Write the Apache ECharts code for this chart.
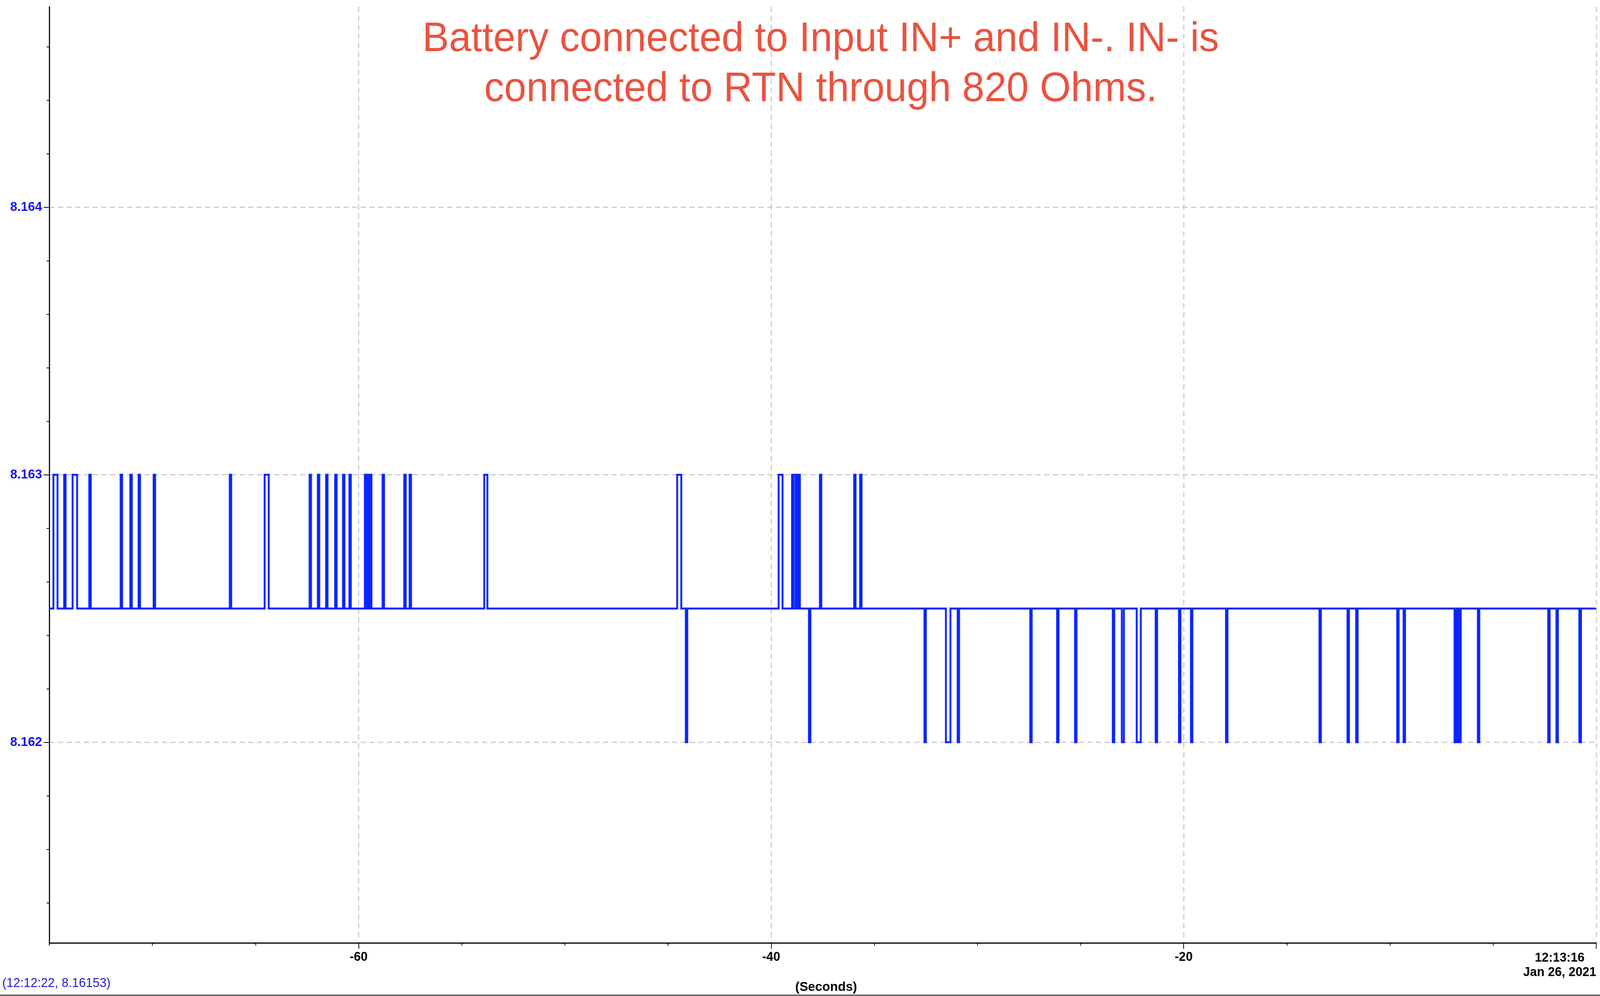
<!DOCTYPE html>
<html>
<head>
<meta charset="utf-8">
<script src="https://cdn.jsdelivr.net/npm/echarts@6/dist/echarts.min.js"></script>
<style>
html,body{margin:0;padding:0;background:#ffffff;overflow:hidden;}
#chart{width:4254px;height:2550px;transform-origin:0 0;}
</style>
</head>
<body>
<div id="chart"></div>
<script>
// ---- data ----
const baseLevel = 8.1625;
const highLevel = 8.163;
const lowLevel = 8.162;
const timeStart = -75;
const timeEnd = 0;

const upPulseStart = [-74.80, -74.28, -73.87, -73.06, -71.54, -71.07, -70.67, -69.94, -66.25, -64.56,
  -62.38, -61.98, -61.58, -61.14, -60.76, -60.45, -59.70, -59.57, -59.45, -58.84, -57.79, -57.53,
  -53.91, -44.56, -39.64, -38.99, -38.82, -38.68, -37.64, -35.98, -35.69];
const upPulseEnd = [-74.60, -74.21, -73.65, -72.99, -71.47, -71.00, -70.60, -69.87, -66.18, -64.36,
  -62.31, -61.91, -61.51, -61.07, -60.69, -60.38, -59.63, -59.50, -59.38, -58.77, -57.72, -57.46,
  -53.76, -44.36, -39.45, -38.92, -38.75, -38.61, -37.57, -35.91, -35.62];

const downPulseStart = [-44.14, -38.17, -32.57, -31.53, -30.96, -27.44, -26.14, -25.27, -23.44, -23.00,
  -22.28, -21.36, -20.23, -19.65, -17.95, -13.42, -12.06, -11.64, -9.65, -9.34, -6.87, -6.75, -6.64,
  -5.74, -2.33, -1.93, -0.82];
const downPulseEnd = [-44.07, -38.10, -32.50, -31.31, -30.89, -27.37, -26.07, -25.20, -23.37, -22.90,
  -22.08, -21.29, -20.16, -19.58, -17.88, -13.35, -11.99, -11.57, -9.58, -9.27, -6.80, -6.68, -6.57,
  -5.67, -2.26, -1.86, -0.74];

const xMajorTicks = [-60, -40, -20, 0];
const xMinorTicks = [-75, -70, -65, -55, -50, -45, -35, -30, -25, -15, -10, -5];
const yMajorTicks = [8.162, 8.163, 8.164];
const yMinorTicks = [8.1614, 8.1616, 8.1618, 8.1622, 8.1624, 8.1626, 8.1628,
  8.1632, 8.1634, 8.1636, 8.1638, 8.1642, 8.1644, 8.1646];
const yMin = 8.16125;
const yMax = 8.16475;
const endTimeLabel = ['12:13:16', 'Jan 26, 2021'];
const xAxisName = '(Seconds)';
const noteLines = ['Battery connected to Input IN+ and IN-. IN- is', 'connected to RTN through 820 Ohms.'];
const cursorReadout = '(12:12:22, 8.16153)';

// ---- build the step trace from the pulse lists ----
const pulses = [];
upPulseStart.forEach((s, i) => pulses.push({ s: s, e: upPulseEnd[i], v: highLevel }));
downPulseStart.forEach((s, i) => pulses.push({ s: s, e: downPulseEnd[i], v: lowLevel }));
pulses.sort((a, b) => a.s - b.s);
const trace = [[timeStart, baseLevel]];
pulses.forEach(p => {
  trace.push([p.s, baseLevel], [p.s, p.v], [p.e, p.v], [p.e, baseLevel]);
});
trace.push([timeEnd, baseLevel]);

// fit the 4254x2550 design into the actual viewport
const W = 4254, H = 2550;
const dom = document.getElementById('chart');
const sx = (window.innerWidth || W) / W;
const sy = (window.innerHeight || H) / H;
dom.style.transform = 'scale(' + sx + ',' + sy + ')';

const FONT = '"Liberation Sans", Arial, sans-serif';
const gridDash = { color: '#c4c4c4', width: 2.5, type: [14, 9] };

const chart = echarts.init(dom, null, { renderer: 'canvas', width: W, height: H });
chart.setOption({
  animation: false,
  backgroundColor: '#ffffff',
  title: {
    text: noteLines.join('\n'), left: 2182, top: 38, padding: 0,
    textAlign: 'center', textVerticalAlign: 'top',
    textStyle: { fontFamily: FONT, fontSize: 106, lineHeight: 128, fontWeight: 'normal', color: '#E9533F' }
  },
  grid: { left: 131, right: 10, top: 17, bottom: 135, containLabel: false },
  xAxis: [
    {
      type: 'value', min: timeStart, max: timeEnd, position: 'bottom',
      name: xAxisName, nameLocation: 'middle', nameGap: 97,
      nameTextStyle: { fontFamily: FONT, fontSize: 34, fontWeight: 'bold', color: '#000', padding: [0, 0, 0, 18] },
      axisLine: { show: true, onZero: false, lineStyle: { color: '#000', width: 3 } },
      axisTick: { show: true, customValues: xMajorTicks, length: 15, lineStyle: { color: '#000', width: 2 } },
      axisLabel: {
        show: true, customValues: xMajorTicks, margin: 20, alignMaxLabel: 'right',
        fontFamily: FONT, fontSize: 33, fontWeight: 'bold', color: '#000',
        formatter: v => (v === 0 ? '{a|' + endTimeLabel[0] + '}\n{a|' + endTimeLabel[1] + '}' : String(v)),
        rich: { a: { align: 'center', fontFamily: FONT, fontSize: 33, fontWeight: 'bold', color: '#000', lineHeight: 37 } }
      },
      splitLine: { show: true, lineStyle: gridDash }
    },
    {
      type: 'value', min: timeStart, max: timeEnd, position: 'bottom',
      axisLine: { show: false, onZero: false },
      axisTick: { show: true, customValues: xMinorTicks, length: 7, lineStyle: { color: '#000', width: 2 } },
      axisLabel: { show: false }, splitLine: { show: false }
    }
  ],
  yAxis: [
    {
      type: 'value', min: yMin, max: yMax, position: 'left',
      axisLine: { show: true, onZero: false, lineStyle: { color: '#000', width: 3 } },
      axisTick: { show: true, customValues: yMajorTicks, length: 15, lineStyle: { color: '#000', width: 2 } },
      axisLabel: {
        show: true, customValues: yMajorTicks, margin: 19,
        fontFamily: FONT, fontSize: 34, fontWeight: 'bold', color: '#1515f0',
        formatter: v => v.toFixed(3)
      },
      splitLine: { show: true, lineStyle: gridDash }
    },
    {
      type: 'value', min: yMin, max: yMax, position: 'left',
      axisLine: { show: false, onZero: false },
      axisTick: { show: true, customValues: yMinorTicks, length: 7, lineStyle: { color: '#000', width: 2 } },
      axisLabel: { show: false }, splitLine: { show: false }
    }
  ],
  graphic: [
    { type: 'text', left: 6, top: 2501, style: { text: cursorReadout, font: 'normal 33px ' + FONT, fill: '#1c1cd8' } },
    { type: 'rect', left: 0, top: 2546, shape: { width: 4254, height: 4 }, style: { fill: '#6e6e6e' } }
  ],
  series: [
    {
      type: 'line', xAxisIndex: 0, yAxisIndex: 0,
      data: trace, showSymbol: false, symbol: 'none',
      lineStyle: { color: '#0b25ff', width: 5, join: 'miter' }, clip: true
    }
  ]
});
</script>
</body>
</html>
